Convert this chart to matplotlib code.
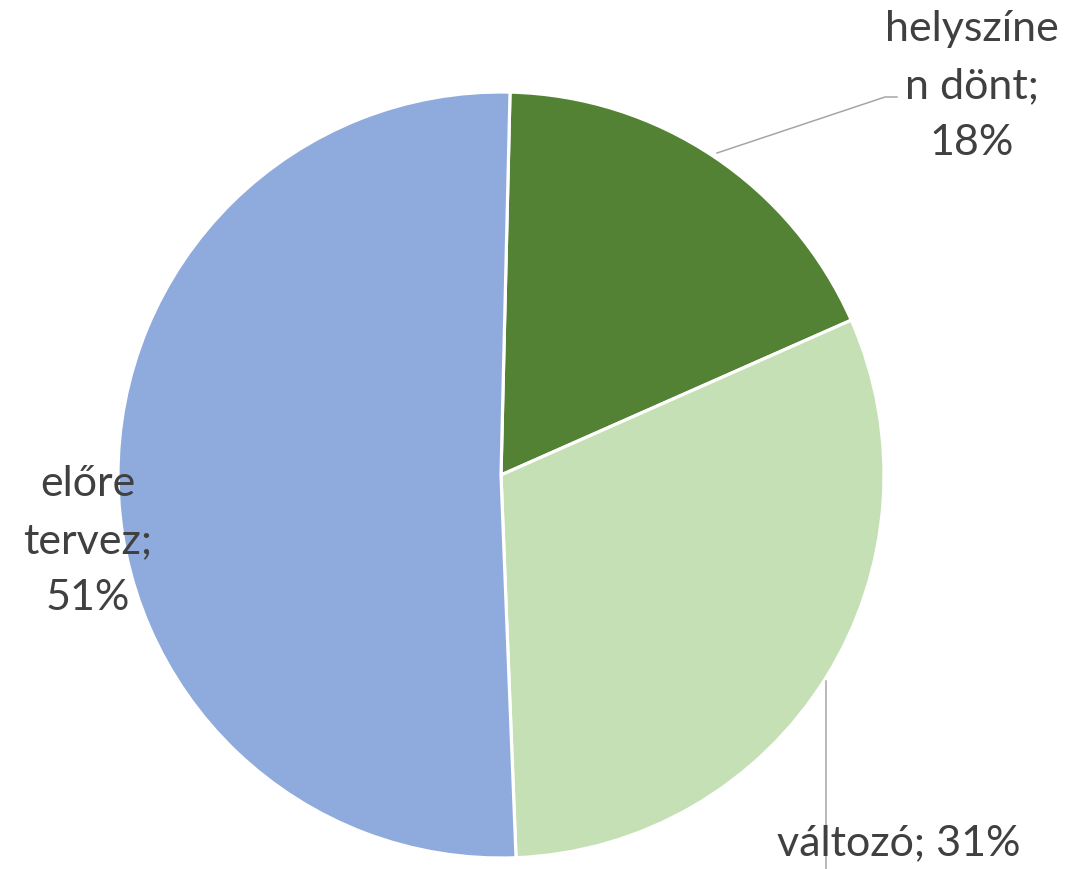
import numpy as np
import matplotlib
matplotlib.use('Agg')
import matplotlib.pyplot as plt

# slice data, clockwise from the top
categories = ['helyszínen dönt', 'változó', 'előre tervez']
shares = [18, 31, 51]
colors = ['#548235', '#C5E0B4', '#8FAADC']

# wrapped label texts as they appear in the chart
label_texts = ['helyszíne\nn dönt;\n18%', 'változó; 31%', 'előre\ntervez;\n51%']

W, H = 1087, 869
fig = plt.figure(figsize=(W / 100, H / 100), dpi=100)
ax = fig.add_axes([0, 0, 1, 1])

# pie drawn in pixel-like coordinates (y up)
cx, cy, r = 501, H - 475, 383
ax.pie(shares, colors=colors, startangle=90 - 1.35, counterclock=False,
       center=(cx, cy), radius=r, frame=True,
       wedgeprops=dict(edgecolor='white', linewidth=2.3))

ax.set_xlim(0, W)
ax.set_ylim(0, H)
ax.set_aspect('equal', adjustable='datalim')
ax.axis('off')

txt = dict(fontsize=31, color='#404040', family=['Lato', 'DejaVu Sans'],
           ha='center', va='center', linespacing=1.6)

# label positions (pixels from top-left)
pos = [(972, 86), (899, 843), (88, 541)]
for t, (x, y) in zip(label_texts, pos):
    ax.text(x, H - y, t, **txt)

# leader lines
lc = dict(color='#A6A6A6', linewidth=1.1)
ax.plot([717, 885, 897], [H - 153, H - 97, H - 97], **lc)
ax.plot([826, 826], [H - 681, 0], **lc)

fig.savefig('out.png', dpi=100)
